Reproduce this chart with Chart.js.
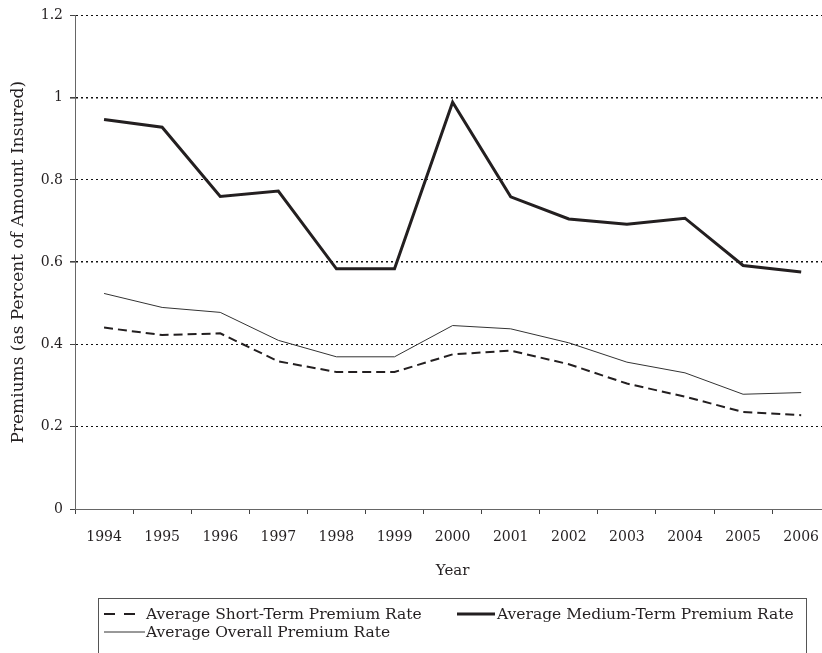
<!DOCTYPE html>
<html>
<head>
<meta charset="utf-8">
<script src="https://cdn.jsdelivr.net/npm/chart.js@4"></script>
<style>
    html, body { margin: 0; padding: 0; background: #fff; overflow: hidden; }
    #wrap { width: 834px; height: 653px; }
</style>
</head>
<body>
<div id="wrap"><canvas id="premiumChart" width="834" height="653"></canvas></div>
<script>
// Chart data
const years = ['1994', '1995', '1996', '1997', '1998', '1999', '2000', '2001', '2002', '2003', '2004', '2005', '2006'];
const shortTermRate = [0.441, 0.423, 0.427, 0.359, 0.333, 0.333, 0.376, 0.385, 0.352, 0.305, 0.273, 0.236, 0.228];
const mediumTermRate = [0.947, 0.928, 0.760, 0.773, 0.584, 0.584, 0.989, 0.759, 0.705, 0.692, 0.707, 0.592, 0.576];
const overallRate = [0.524, 0.490, 0.478, 0.410, 0.370, 0.370, 0.446, 0.438, 0.404, 0.357, 0.331, 0.279, 0.283];
const yTicks = [0, 0.2, 0.4, 0.6, 0.8, 1, 1.2];

const serif = "'DejaVu Serif', serif";
const inkColour = '#231f20';

Chart.defaults.font.family = serif;
Chart.defaults.font.size = 14;
Chart.defaults.color = inkColour;

// Boxed legend under the chart, like the original figure
const boxLegend = {
    id: 'boxLegend',
    afterDraw(chart) {
        const ctx = chart.ctx;
        const ds = chart.data.datasets;
        const items = [
            { ds: ds[0], x: 104, y: 614, len: 32, textX: 146, dash: [11, 9] },
            { ds: ds[1], x: 457, y: 614, len: 38, textX: 497, dash: [] },
            { ds: ds[2], x: 104, y: 632, len: 41, textX: 146, dash: [] }
        ];
        ctx.save();
        ctx.strokeStyle = '#555';
        ctx.lineWidth = 1;
        ctx.strokeRect(98.5, 598.5, 708, 80);
        ctx.font = '15.5px ' + serif;
        ctx.textBaseline = 'middle';
        ctx.fillStyle = inkColour;
        for (const item of items) {
            ctx.beginPath();
            ctx.setLineDash(item.dash);
            ctx.lineWidth = item.ds.borderWidth;
            ctx.strokeStyle = item.ds.borderColor;
            ctx.moveTo(item.x, item.y);
            ctx.lineTo(item.x + item.len, item.y);
            ctx.stroke();
            ctx.setLineDash([]);
            ctx.fillText(item.ds.label, item.textX, item.y + 1);
        }
        ctx.restore();
    }
};

const chartConfig = {
    type: 'line',
    data: {
        labels: years,
        datasets: [{
            label: 'Average Short-Term Premium Rate',
            data: shortTermRate,
            borderColor: inkColour,
            borderWidth: 2,
            borderDash: [9, 5],
            pointRadius: 0,
            tension: 0
        }, {
            label: 'Average Medium-Term Premium Rate',
            data: mediumTermRate,
            borderColor: inkColour,
            borderWidth: 3,
            pointRadius: 0,
            tension: 0
        }, {
            label: 'Average Overall Premium Rate',
            data: overallRate,
            borderColor: '#333',
            borderWidth: 1,
            pointRadius: 0,
            tension: 0
        }]
    },
    options: {
        responsive: false,
        animation: false,
        layout: {
            padding: { top: 15, right: 0, bottom: 68, left: 0 }
        },
        scales: {
            x: {
                offset: true,
                afterFit: (scale) => { scale.height = 76; },
                border: { display: true, color: '#666', width: 1 },
                grid: {
                    offset: true,
                    drawOnChartArea: false,
                    drawTicks: true,
                    tickLength: 5,
                    tickColor: '#444'
                },
                ticks: {
                    padding: 15,
                    maxRotation: 0,
                    autoSkip: false,
                    color: inkColour
                },
                title: {
                    display: true,
                    text: 'Year',
                    color: inkColour,
                    font: { size: 15 },
                    padding: { top: 0, bottom: 5 }
                }
            },
            y: {
                min: 0,
                max: 1.2,
                afterFit: (scale) => { scale.width = 75; },
                afterBuildTicks: (scale) => {
                    scale.ticks = yTicks.map(v => ({ value: v }));
                },
                border: { display: true, color: '#666', width: 1, dash: [2, 3] },
                grid: {
                    color: (c) => c.tick && c.tick.value === 0 ? 'rgba(0,0,0,0)' : '#111',
                    lineWidth: (c) => (c.tick && (c.tick.value === 1 || c.tick.value === 0.6)) ? 1.6 : 1,
                    tickLength: 5,
                    tickColor: '#444',
                    tickBorderDash: []
                },
                ticks: {
                    padding: 7,
                    color: inkColour,
                    callback: (v) => String(Math.round(v * 10) / 10)
                },
                title: {
                    display: true,
                    text: 'Premiums (as Percent of Amount Insured)',
                    color: inkColour,
                    font: { size: 17 },
                    padding: { top: 8, bottom: 0 }
                }
            }
        },
        plugins: {
            legend: { display: false },
            tooltip: { enabled: false },
            title: { display: false }
        }
    },
    plugins: [boxLegend]
};

const premiumChart = new Chart('premiumChart', chartConfig);
</script>
</body>
</html>
